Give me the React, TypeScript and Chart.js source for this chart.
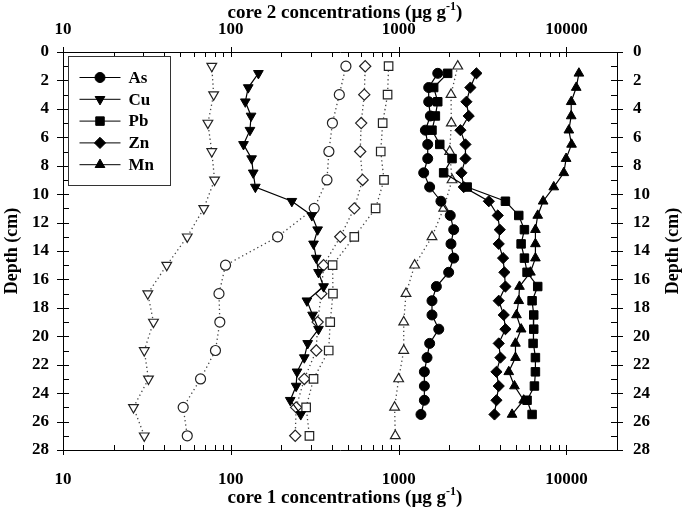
import React, { useEffect, useRef } from 'react';
import { Chart, registerables } from 'chart.js';

Chart.register(...registerables);

// ---------- data ----------
const elements = ['As', 'Cu', 'Pb', 'Zn', 'Mn'];

const depthsCore2 = [1.5, 2.5, 3.5, 4.5, 5.5, 6.5, 7.5, 8.5, 9.5, 10.5, 11.5, 12.5, 13.5, 14.5, 15.5, 16.5, 17.5, 18.5, 19.5, 20.5, 21.5, 22.5, 23.5, 24.5, 25.5];
const depthsCore1 = [1, 3, 5, 7, 9, 11, 13, 15, 17, 19, 21, 23, 25, 27];

const asCore2 = [1710, 1510, 1510, 1545, 1443, 1490, 1490, 1410, 1530, 1786, 2030, 2128, 2050, 2128, 1986, 1678, 1580, 1580, 1734, 1530, 1476, 1423, 1423, 1423, 1358];
const cuCore2 = [146, 127, 122, 132, 130, 119, 133, 136, 140, 231, 304, 329, 311, 323, 333, 357, 284, 307, 333, 287, 274, 248, 245, 226, 261];
const pbCore2 = [1959, 1617, 1710, 1655, 1580, 1758, 2080, 1854, 2560, 4327, 5196, 5616, 5366, 5616, 5823, 6740, 6239, 6383, 6383, 6325, 6530, 6530, 6442, 5823, 6239];
const znCore2 = [2906, 2675, 2533, 2615, 2333, 2500, 2500, 2366, 2444, 3446, 3895, 4004, 3948, 4190, 4266, 4327, 3948, 4228, 4327, 3948, 4040, 3826, 3948, 3826, 3724];
const mnCore2 = [11860, 11430, 10670, 10670, 10330, 10720, 9950, 9640, 8400, 7260, 6740, 6530, 6530, 6530, 6098, 5248, 5196, 5036, 5370, 4966, 4966, 4530, 4898, 5560, 4740];

const asCore1 = [485, 443, 403, 384, 374, 314, 190, 93, 85, 86, 81, 66, 52, 55];
const cuCore1 = [77, 79, 73, 77, 80, 69, 55, 41.5, 32, 34.6, 30.5, 32.3, 26.3, 30.5];
const pbCore1 = [871, 859, 803, 782, 818, 729, 544, 404, 406, 391, 383, 311, 281, 294];
const znCore1 = [632, 624, 598, 590, 610, 544, 449, 357, 346, 329, 323, 274, 245, 242];
const mnCore1 = [2249, 2051, 2060, 2014, 2080, 1855, 1580, 1245, 1106, 1072, 1072, 1000, 946, 955];

const xMin = 10;
const xMax = 20000;
const xLabelValues = [10, 100, 1000, 10000];
const yMin = 0;
const yMax = 28;
const yStep = 2;

const topTitle = ['core 2 concentrations (µg g', '-1', ')'];
const bottomTitle = ['core 1 concentrations (µg g', '-1', ')'];
const depthTitle = 'Depth (cm)';

// ---------- styles ----------
const FONT = '"Liberation Serif", "Times New Roman", serif';
const markerStyles = [
  { pointStyle: 'circle', radius: 5, rotation: 0 },
  { pointStyle: 'triangle', radius: 5.6, rotation: 180 },
  { pointStyle: 'rect', radius: 6, rotation: 0 },
  { pointStyle: 'rectRot', radius: 5.6, rotation: 0 },
  { pointStyle: 'triangle', radius: 5.6, rotation: 0 },
];

const core2Series = [asCore2, cuCore2, pbCore2, znCore2, mnCore2];
const core1Series = [asCore1, cuCore1, pbCore1, znCore1, mnCore1];

function drawMarker(ctx: CanvasRenderingContext2D, style: string, r: number, rot: number, x: number, y: number) {
  ctx.beginPath();
  if (style === 'circle') {
    ctx.arc(x, y, r, 0, Math.PI * 2);
  } else if (style === 'rect') {
    const s = Math.SQRT1_2 * r;
    ctx.rect(x - s, y - s, 2 * s, 2 * s);
  } else if (style === 'rectRot') {
    ctx.moveTo(x, y - r);
    ctx.lineTo(x + r, y);
    ctx.lineTo(x, y + r);
    ctx.lineTo(x - r, y);
    ctx.closePath();
  } else {
    let rad = (rot * Math.PI) / 180;
    ctx.moveTo(x + Math.sin(rad) * r, y - Math.cos(rad) * r);
    rad += (2 * Math.PI) / 3;
    ctx.lineTo(x + Math.sin(rad) * r, y - Math.cos(rad) * r);
    rad += (2 * Math.PI) / 3;
    ctx.lineTo(x + Math.sin(rad) * r, y - Math.cos(rad) * r);
    ctx.closePath();
  }
  ctx.fill();
  ctx.stroke();
}

function drawSupTitle(ctx: CanvasRenderingContext2D, parts: string[], cx: number, baseY: number) {
  const big = `bold 19px ${FONT}`;
  const small = `bold 12px ${FONT}`;
  ctx.font = big;
  const w1 = ctx.measureText(parts[0]).width;
  const w3 = ctx.measureText(parts[2]).width;
  ctx.font = small;
  const w2 = ctx.measureText(parts[1]).width;
  const x0 = cx - (w1 + w2 + w3) / 2;
  ctx.textAlign = 'left';
  ctx.textBaseline = 'alphabetic';
  ctx.font = big;
  ctx.fillText(parts[0], x0, baseY);
  ctx.font = small;
  ctx.fillText(parts[1], x0 + w1, baseY - 8);
  ctx.font = big;
  ctx.fillText(parts[2], x0 + w1 + w2, baseY);
}

const decorPlugin = {
  id: 'decor',
  afterDraw(chart: any) {
    const { ctx, chartArea: a, scales } = chart;
    const xs = scales.x;
    const ys = scales.y;
    ctx.save();
    // tick marks
    ctx.strokeStyle = '#000';
    ctx.lineWidth = 1;
    ctx.beginPath();
    for (const base of xLabelValues) {
      for (let m = 1; m <= 9; m++) {
        const v = m * base;
        if (v > xMax) break;
        const px = Math.round(xs.getPixelForValue(v)) + 0.5;
        const major = m === 1;
        ctx.moveTo(px, a.bottom + (major ? 5 : 0));
        ctx.lineTo(px, a.bottom - 5);
        ctx.moveTo(px, a.top - (major ? 5 : 0));
        ctx.lineTo(px, a.top + 5);
      }
    }
    for (let d = yMin; d <= yMax; d++) {
      const py = Math.round(ys.getPixelForValue(d)) + 0.5;
      const major = d % yStep === 0;
      ctx.moveTo(a.left - (major ? 6 : 0), py);
      ctx.lineTo(a.left + 6, py);
      ctx.moveTo(a.right + (major ? 6 : 0), py);
      ctx.lineTo(a.right - 6, py);
    }
    ctx.stroke();

    // titles
    ctx.fillStyle = '#000';
    const cx = (a.left + a.right) / 2;
    drawSupTitle(ctx, topTitle, cx + 5, 18);
    drawSupTitle(ctx, bottomTitle, cx + 5, 503);
    ctx.font = `bold 18px ${FONT}`;
    ctx.textAlign = 'center';
    ctx.textBaseline = 'middle';
    const cy = (a.top + a.bottom) / 2;
    ctx.save();
    ctx.translate(12, cy);
    ctx.rotate(-Math.PI / 2);
    ctx.fillText(depthTitle, 0, 0);
    ctx.restore();
    ctx.save();
    ctx.translate(673, cy);
    ctx.rotate(-Math.PI / 2);
    ctx.fillText(depthTitle, 0, 0);
    ctx.restore();

    // legend
    const bx = a.left + 5.5;
    const by = a.top + 4.5;
    const bw = 102;
    const bh = 129;
    ctx.fillStyle = '#fff';
    ctx.fillRect(bx, by, bw, bh);
    ctx.strokeStyle = '#333';
    ctx.lineWidth = 1;
    ctx.strokeRect(bx, by, bw, bh);
    elements.forEach((name, i) => {
      const ry = by + 21 + i * 21.8;
      ctx.strokeStyle = '#000';
      ctx.lineWidth = 1;
      ctx.beginPath();
      ctx.moveTo(bx + 11, ry);
      ctx.lineTo(bx + 52, ry);
      ctx.stroke();
      ctx.fillStyle = '#000';
      const ms = markerStyles[i];
      drawMarker(ctx, ms.pointStyle, ms.radius, ms.rotation, bx + 31.5, ry);
      ctx.font = `bold 17px ${FONT}`;
      ctx.textAlign = 'left';
      ctx.textBaseline = 'middle';
      ctx.fillText(name, bx + 60, ry + 1);
    });
    ctx.restore();
  },
};

const tickFont = { family: FONT, size: 17, weight: 'bold' as const };
const isPow10 = (v: number) => xLabelValues.indexOf(Math.round(v)) >= 0 && Math.abs(v - Math.round(v)) < 1e-6;

export default function App() {
  const ref = useRef<HTMLCanvasElement | null>(null);

  useEffect(() => {
    if (!ref.current) return;
    const datasets: any[] = [];
    elements.forEach((name, i) => {
      const ms = markerStyles[i];
      datasets.push({
        label: `${name} core 1`,
        xAxisID: 'x',
        yAxisID: 'y',
        data: core1Series[i].map((v, k) => ({ x: v, y: depthsCore1[k] })),
        showLine: true,
        borderColor: '#444',
        borderWidth: 1.3,
        borderDash: [1.3, 3],
        pointStyle: ms.pointStyle,
        pointRadius: ms.radius,
        pointRotation: ms.rotation,
        pointBackgroundColor: '#fff',
        pointBorderColor: '#222',
        pointBorderWidth: 1.2,
        order: 2,
      });
    });
    elements.forEach((name, i) => {
      const ms = markerStyles[i];
      datasets.push({
        label: `${name} core 2`,
        xAxisID: 'x2',
        yAxisID: 'y',
        data: core2Series[i].map((v, k) => ({ x: v, y: depthsCore2[k] })),
        showLine: true,
        borderColor: '#000',
        borderWidth: 1.2,
        pointStyle: ms.pointStyle,
        pointRadius: ms.radius,
        pointRotation: ms.rotation,
        pointBackgroundColor: '#000',
        pointBorderColor: '#000',
        pointBorderWidth: 1,
        order: 1,
      });
    });

    const xCommon = (pos: 'top' | 'bottom', size: number, padding: number) => ({
      type: 'logarithmic' as const,
      position: pos,
      min: xMin,
      max: xMax,
      grid: { display: false, drawTicks: false },
      border: { display: true, color: '#000', width: 1 },
      ticks: {
        autoSkip: false,
        maxRotation: 0,
        color: '#000',
        font: tickFont,
        padding,
        callback: (v: any) => (isPow10(Number(v)) ? String(Math.round(Number(v))) : ''),
      },
      afterFit: (s: any) => {
        s.height = size;
      },
    });
    const yCommon = (pos: 'left' | 'right', size: number, padding: number) => ({
      type: 'linear' as const,
      position: pos,
      min: yMin,
      max: yMax,
      reverse: true,
      grid: { display: false, drawTicks: false },
      border: { display: true, color: '#000', width: 1 },
      ticks: {
        stepSize: yStep,
        autoSkip: false,
        color: '#000',
        font: tickFont,
        padding,
      },
      afterFit: (s: any) => {
        s.width = size;
      },
    });

    const chart = new Chart(ref.current, {
      type: 'scatter',
      data: { datasets },
      options: {
        responsive: false,
        animation: false,
        devicePixelRatio: 1,
        layout: { padding: 0 },
        plugins: { legend: { display: false }, tooltip: { enabled: false }, title: { display: false } },
        scales: {
          x: xCommon('bottom', 58, 19),
          x2: xCommon('top', 52, 12),
          y: yCommon('left', 63, 14),
          y2: yCommon('right', 68, 16),
        },
      },
      plugins: [decorPlugin],
    });
    return () => chart.destroy();
  }, []);

  return (
    <div style={{ position: 'absolute', left: 0, top: 0, width: 685, height: 508, background: '#fff' }}>
      <canvas ref={ref} width={685} height={508} style={{ display: 'block' }} />
    </div>
  );
}
